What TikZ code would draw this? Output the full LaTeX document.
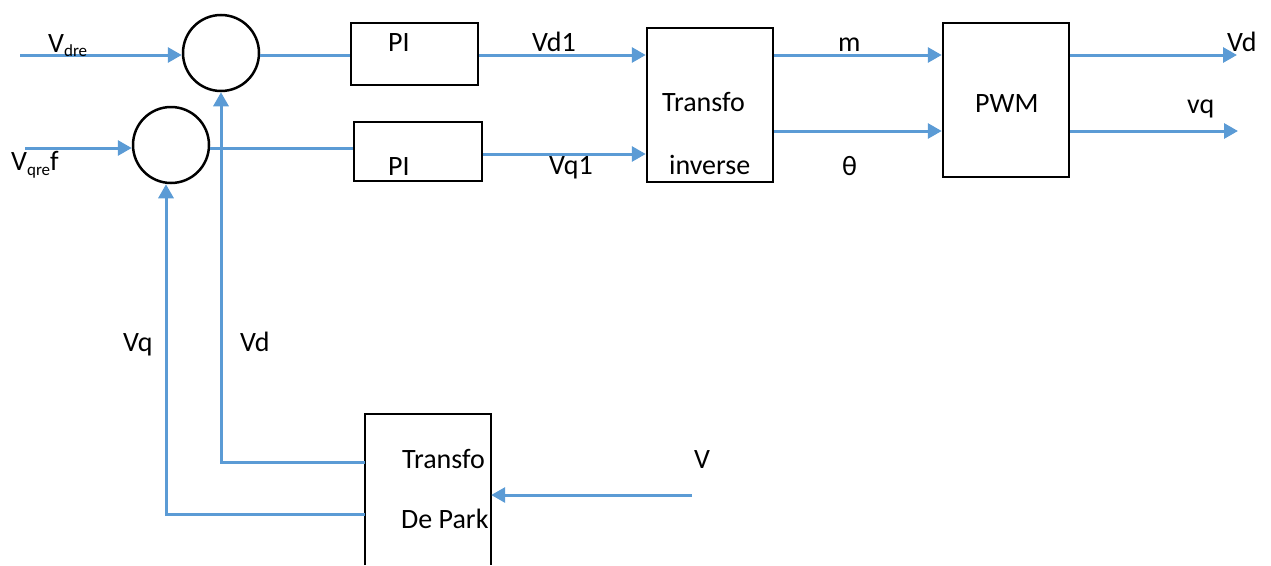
\documentclass[tikz,border=0pt]{standalone}
\usepackage{fontspec}
\setmainfont{Carlito}
\usetikzlibrary{arrows.meta}
\definecolor{lineblue}{HTML}{5B9BD5}
\begin{document}
\begin{tikzpicture}[x=1pt,y=-1pt,
  sig/.style={draw=lineblue,line width=3pt},
  arr/.style={sig,-{Triangle[length=14pt,width=15pt]}},
  blk/.style={draw=black,line width=2.5pt,rectangle,inner sep=0pt},
  sumnode/.style={draw=black,line width=2.5pt,circle,inner sep=0pt,minimum size=76pt},
  lbl/.style={anchor=base west,inner sep=0pt,font=\fontsize{28}{34}\selectfont},
]
\useasboundingbox (0,0) rectangle (1271,565);
% blocks
\node[sumnode] (c1) at (221,53) {};
\node[sumnode] (c2) at (171,145) {};
\node[blk,minimum width=127pt,minimum height=62pt] (pi1) at (414.5,54) {};
\node[blk,minimum width=128pt,minimum height=59pt] (pi2) at (418,151.5) {};
\node[blk,minimum width=126pt,minimum height=154pt] (ti) at (710,105) {};
\node[blk,minimum width=126pt,minimum height=154pt] (pwm) at (1006,100) {};
\node[minimum width=126pt,minimum height=151pt,inner sep=0pt] (park) at (428,489.5) {};
\draw[black,line width=2.5pt] (park.south west) -- (park.north west) -- (park.north east) -- (park.south east);
% free ends
\coordinate (vdin) at (20,55);
\coordinate (vqin) at (25,148);
\coordinate (q1) at (0,154);
\coordinate (th) at (0,131);
\coordinate (vdout) at (1237,55);
\coordinate (vqout) at (1238,131);
\coordinate (fd) at (0,462);
\coordinate (fq) at (0,514);
\coordinate (vin) at (692,495);
% connectors
\draw[arr] (vdin) -- (vdin -| c1.west);
\draw[arr] (vqin) -- (vqin -| c2.west);
\draw[sig] (c1.east |- vdin) -- (vdin -| pi1.west);
\draw[sig] (c2.east |- vqin) -- (vqin -| pi2.west);
\draw[arr] (pi1.east |- vdin) -- (vdin -| ti.west);
\draw[arr] (pi2.east |- q1) -- (q1 -| ti.west);
\draw[arr] (ti.east |- vdin) -- (vdin -| pwm.west);
\draw[arr] (ti.east |- th) -- (th -| pwm.west);
\draw[arr] (pwm.east |- vdin) -- (vdout);
\draw[arr] (pwm.east |- th) -- (vqout);
\draw[arr] (fd -| park.west) -| (c1.south);
\draw[arr] (fq -| park.west) -| ([xshift=-5pt]c2.south);
\draw[arr] (vin) -- (vin -| park.east);
% labels
\node[lbl] (lvdre) at (48,52) {V\raisebox{-4pt}{\fontsize{17}{20}\selectfont dre}};
\node[lbl] (lvqref) at (11,170) {V\raisebox{-5pt}{\fontsize{17}{20}\selectfont qre}f};
\node[lbl] (tpi1) at (388,51) {PI};
\node[lbl] (tpi2) at (388,175) {PI};
\node[lbl] (lvd1) at (532,51) {Vd1};
\node[lbl] (lvq1) at (549,174) {Vq1};
\node[lbl] (tti1) at (662,111) {Transfo};
\node[lbl] (tti2) at (669,174) {inverse};
\node[lbl] (lm) at (838,51) {m};
\node[lbl] (lth) at (842,175) {θ};
\node[lbl] (tpwm) at (975,112) {PWM};
\node[lbl] (lvdo) at (1227,51) {Vd};
\node[lbl] (lvqo) at (1187,113) {vq};
\node[lbl] (lvq) at (123,351) {Vq};
\node[lbl] (lvd) at (240,351) {Vd};
\node[lbl] (tpk1) at (402,468) {Transfo};
\node[lbl] (tpk2) at (401,528) {De Park};
\node[lbl] (lv) at (694,468) {V};
\end{tikzpicture}
\end{document}
